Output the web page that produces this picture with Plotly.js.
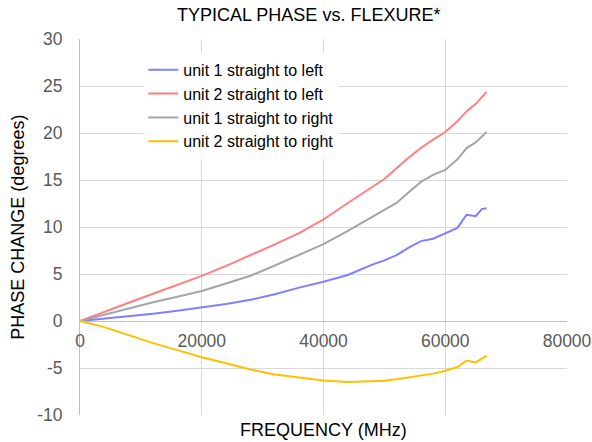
<!DOCTYPE html>
<html>
<head>
<meta charset="utf-8">
<script src="https://cdn.plot.ly/plotly-3.0.1.min.js"></script>
<style>html,body{margin:0;padding:0;background:#fff;}#chart{width:592px;height:442px;}</style>
</head>
<body>
<div id="chart"></div>
<script>
// Frequency (MHz)
var freq = [0, 4000, 8000, 12000, 16000, 20000, 24000, 28000, 32000, 36000, 40000, 44000, 48000, 50000, 52000, 54000, 56000, 58000, 60000, 62000, 63500, 65000, 66000, 66800];
// Phase change (degrees)
var unit1Left  = [0, 0.25, 0.5, 0.77, 1.09, 1.44, 1.8, 2.26, 2.85, 3.55, 4.17, 4.9, 6.0, 6.45, 7.0, 7.8, 8.5, 8.75, 9.3, 9.9, 11.3, 11.15, 11.9, 12.0];
var unit2Left  = [0, 1.0, 1.94, 2.9, 3.87, 4.8, 5.87, 7.0, 8.15, 9.35, 10.8, 12.55, 14.3, 15.1, 16.25, 17.4, 18.4, 19.3, 20.1, 21.25, 22.3, 23.1, 23.8, 24.35];
var unit1Right = [0, 0.67, 1.31, 2.0, 2.58, 3.2, 3.99, 4.81, 5.9, 7.0, 8.17, 9.6, 11.1, 11.8, 12.56, 13.7, 14.8, 15.55, 16.07, 17.2, 18.4, 19.0, 19.6, 20.1];
var unit2Right = [0, -0.65, -1.5, -2.35, -3.1, -3.85, -4.5, -5.15, -5.7, -6.05, -6.33, -6.5, -6.45, -6.35, -6.2, -6.0, -5.75, -5.6, -5.3, -4.9, -4.2, -4.4, -4.0, -3.7];
var seriesNames = ["unit 1 straight to left", "unit 2 straight to left", "unit 1 straight to right", "unit 2 straight to right"];
var seriesColors = ["#7f7fff", "#ff7f7f", "#a5a5a5", "#ffc000"];
var seriesValues = [unit1Left, unit2Left, unit1Right, unit2Right];
var xTicks = [0, 20000, 40000, 60000, 80000];
var yTicks = [-10, -5, 0, 5, 10, 15, 20, 25, 30];

var traces = seriesValues.map(function (v, i) {
  return {
    x: freq, y: v, type: "scatter", mode: "lines", name: seriesNames[i],
    line: {color: seriesColors[i], width: 2}
  };
});

var font = "Liberation Sans, Arial, sans-serif";
var layout = {
  width: 592, height: 442,
  margin: {l: 80, r: 25, t: 39, b: 27},
  paper_bgcolor: "#fff", plot_bgcolor: "#fff",
  showlegend: true,
  font: {family: font, color: "#595959", size: 17.5},
  xaxis: {
    range: [0, 80000], tickvals: xTicks, ticktext: xTicks.map(String),
    showgrid: true, gridcolor: "#d9d9d9", gridwidth: 1,
    zeroline: false, showline: true, linecolor: "#bfbfbf", linewidth: 1,
    anchor: "free", position: 0.25, ticks: "", ticklabelstandoff: 4,
    ticklabeloverflow: "allow",
    tickfont: {family: font, color: "#595959", size: 17.5}
  },
  yaxis: {
    range: [-10, 30], tickvals: yTicks, ticktext: yTicks.map(String),
    showgrid: true, gridcolor: "#d9d9d9", gridwidth: 1,
    zeroline: false, showline: true, linecolor: "#bfbfbf", linewidth: 1,
    ticks: "", ticklabelstandoff: 13,
    tickfont: {family: font, color: "#595959", size: 17.5}
  },
  legend: {
    x: 0.13, y: 0.963, xanchor: "left", yanchor: "top",
    bgcolor: "#ffffff", borderwidth: 0,
    font: {family: font, color: "#000", size: 16},
    itemwidth: 30, tracegroupgap: 0
  },
  annotations: [
    {text: "TYPICAL PHASE vs. FLEXURE*", xref: "paper", yref: "paper", x: 0.47, y: 1.063,
     xanchor: "center", yanchor: "middle", showarrow: false,
     font: {family: font, color: "#000", size: 18}},
    {text: "FREQUENCY (MHz)", xref: "paper", yref: "paper", x: 0.5, y: -0.04,
     xanchor: "center", yanchor: "middle", showarrow: false,
     font: {family: font, color: "#000", size: 18}},
    {text: "PHASE CHANGE (degrees)", xref: "paper", yref: "paper", x: -0.128, y: 0.5,
     xanchor: "center", yanchor: "middle", showarrow: false, textangle: -90,
     font: {family: font, color: "#000", size: 18}}
  ]
};
Plotly.newPlot("chart", traces, layout, {displayModeBar: false, staticPlot: true});
</script>
</body>
</html>
